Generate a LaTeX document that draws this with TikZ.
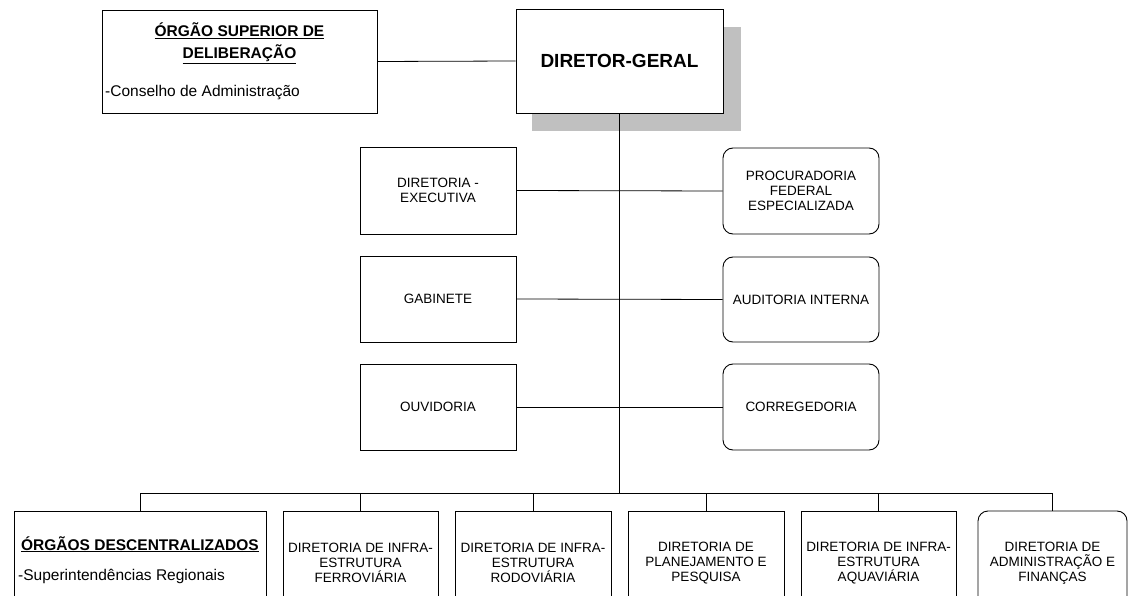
\documentclass[tikz,border=0pt]{standalone}
\usepackage{fontspec}
\setmainfont{Liberation Sans}
\definecolor{shadowgray}{RGB}{192,192,192}
\tikzset{
  box/.style={draw=black, line width=0.9pt, fill=white, inner sep=0pt},
  rbox/.style={box, rounded corners=10pt},
  lbl/.style={font=\fontsize{13.5}{15.2}\selectfont, align=center, inner sep=0pt},
  hdr/.style={font=\bfseries\fontsize{15.5}{22}\selectfont, align=center, inner sep=0pt},
  conn/.style={draw=black, line width=0.8pt},
}
\begin{document}
\begin{tikzpicture}[x=1pt,y=-1pt]
\useasboundingbox (0,0) rectangle (1128,596);
\clip (0,0) rectangle (1128,596);
\fill[white] (0,0) rectangle (1128,596);

% shadow of director box
\fill[shadowgray] (532,27) rectangle (741,131);

% top row
\node[box, minimum width=207pt, minimum height=104pt,
      font=\bfseries\fontsize{19}{22}\selectfont] (dg) at (619.5,61) {DIRETOR-GERAL};
\node[box, minimum width=275pt, minimum height=103pt] (sup) at (239.5,61.5) {};
\node[hdr] (supt) at (239.5,43) {\underline{ÓRGÃO SUPERIOR DE}\\\underline{DELIBERAÇÃO}};
\node[anchor=base west, inner sep=0pt, font=\fontsize{15.5}{18}\selectfont] (supc) at (105,97) {-Conselho de Administração};

% middle rows
\node[box, minimum width=156pt, minimum height=87pt, lbl] (exe) at (438,190.5) {DIRETORIA -\\EXECUTIVA};
\node[box, minimum width=156pt, minimum height=86pt, lbl] (gab) at (438,299) {GABINETE};
\node[box, minimum width=156pt, minimum height=86pt, lbl] (ouv) at (438,407) {OUVIDORIA};
\node[rbox, minimum width=156pt, minimum height=86pt, lbl] (proc) at (801,191) {PROCURADORIA\\FEDERAL\\ESPECIALIZADA};
\node[rbox, minimum width=156pt, minimum height=85pt, lbl] (aud) at (801,299.5) {AUDITORIA INTERNA};
\node[rbox, minimum width=156pt, minimum height=86pt, lbl] (cor) at (801,407) {CORREGEDORIA};

% bottom row boxes
\node[box, minimum width=252pt, minimum height=130pt] (b1) at (140,576) {};
\node[box, minimum width=155pt, minimum height=130pt] (b2) at (360.5,576) {};
\node[box, minimum width=156pt, minimum height=130pt] (b3) at (533,576) {};
\node[box, minimum width=156pt, minimum height=130pt] (b4) at (706,576) {};
\node[box, minimum width=155pt, minimum height=130pt] (b5) at (878.5,576) {};
\node[rbox, minimum width=149pt, minimum height=130pt] (b6) at (1052.5,576) {};

% bottom row texts
\node[anchor=base, inner sep=0pt, font=\bfseries\fontsize{15.5}{18}\selectfont] (b1t) at (140,550) {\underline{ÓRGÃOS DESCENTRALIZADOS}};
\node[anchor=base west, inner sep=0pt, font=\fontsize{15.5}{18}\selectfont] (b1s) at (18,580) {-Superintendências Regionais};
\node[lbl] (b2t) at (360.5,563) {DIRETORIA DE INFRA-\\ESTRUTURA\\FERROVIÁRIA};
\node[lbl] (b3t) at (533,563) {DIRETORIA DE INFRA-\\ESTRUTURA\\RODOVIÁRIA};
\node[lbl] (b4t) at (706,563) {DIRETORIA DE\\PLANEJAMENTO E\\PESQUISA};
\node[lbl] (b5t) at (878.5,563) {DIRETORIA DE INFRA-\\ESTRUTURA\\AQUAVIÁRIA};
\node[lbl] (b6t) at (1052.5,563) {DIRETORIA DE\\ADMINISTRAÇÃO E\\FINANÇAS};

% connectors
\coordinate (bus) at (619.5,493);
\draw[conn] (sup.east) -- (dg.west);
\draw[conn] (dg.south) -- (bus);
\draw[conn] (exe.east) -- (proc.west);
\draw[conn] (gab.east) -- (aud.west);
\draw[conn] (ouv.east) -- (cor.west);
\draw[conn] (b1.north |- bus) -- (b6.north |- bus);
\foreach \b in {b1,b2,b3,b4,b5,b6}{
  \draw[conn] (\b.north |- bus) -- (\b.north);
}
\end{tikzpicture}
\end{document}
